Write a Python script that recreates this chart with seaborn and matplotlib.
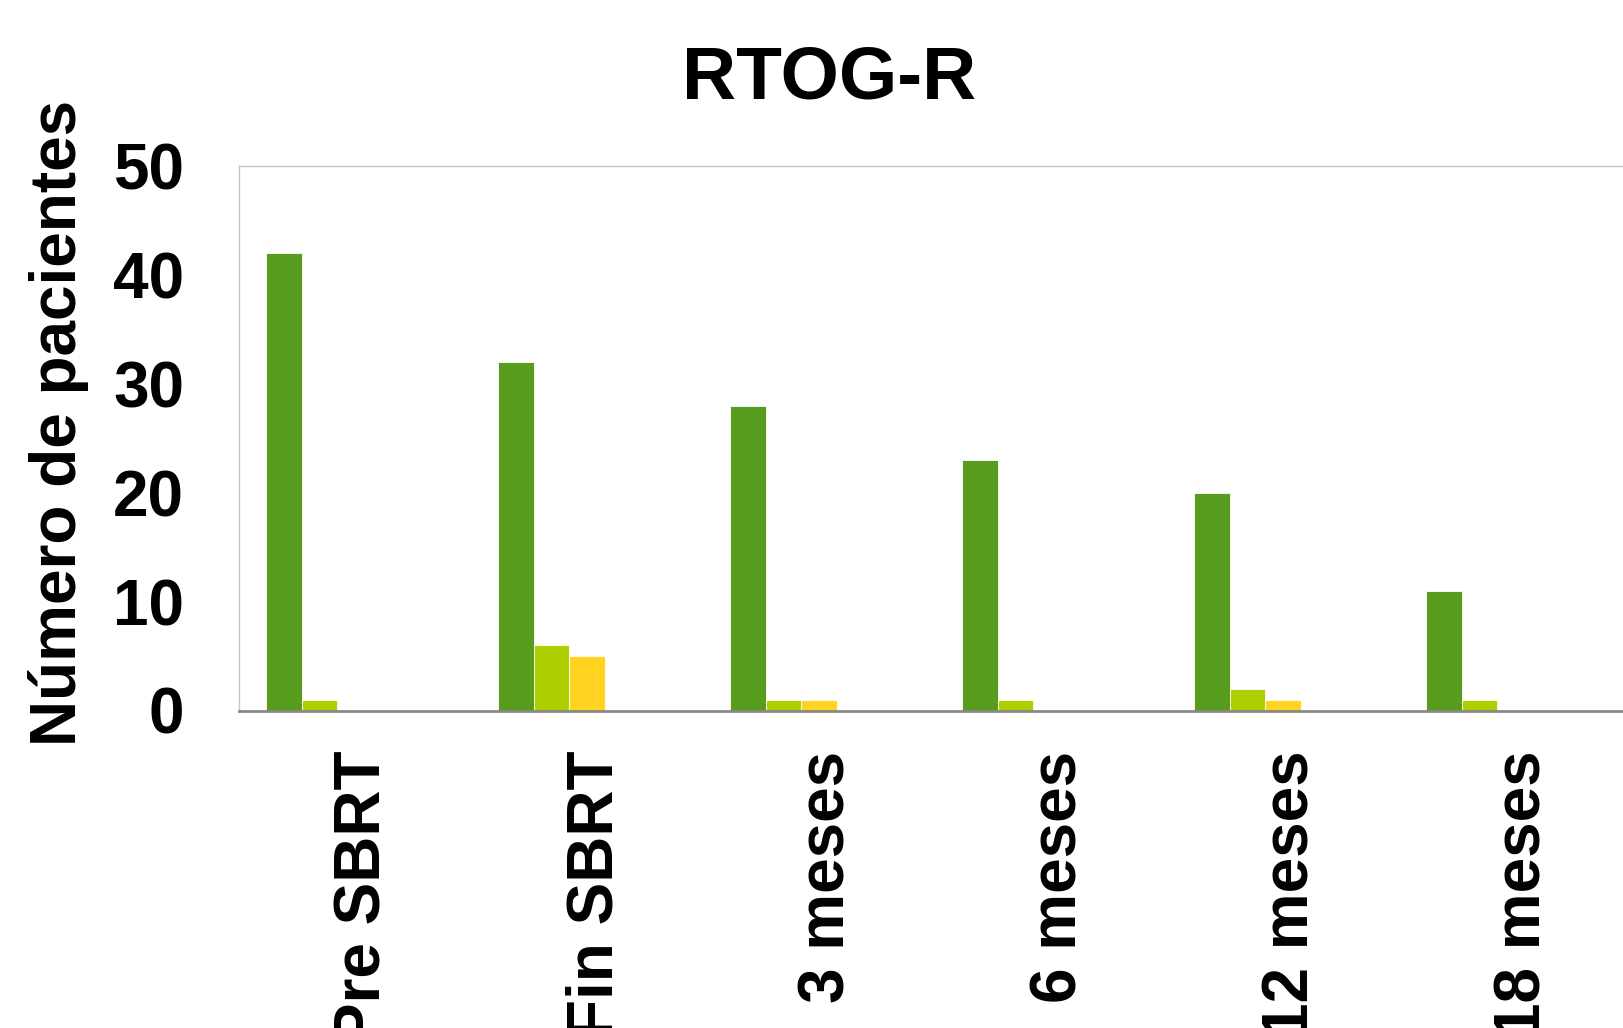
import pandas as pd
import matplotlib
matplotlib.use("Agg")
import matplotlib.pyplot as plt
import matplotlib.transforms as mtransforms
import seaborn as sns

# --- DATA ---
momentos = ['Pre SBRT', 'Fin SBRT', '3 meses', '6 meses', '12 meses', '18 meses']
grados = ['Grado 0', 'Grado 1', 'Grado 2', 'Grado 3', 'Grado 4']
grado_0 = [42, 32, 28, 23, 20, 11]
grado_1 = [1, 6, 1, 1, 2, 1]
grado_2 = [0, 5, 1, 0, 1, 0]
grado_3 = [0, 0, 0, 0, 0, 0]
grado_4 = [0, 0, 0, 0, 0, 0]
colores = ['#579C1D', '#AED000', '#FFD320', '#FF8C00', '#E02010']

rows = []
for g, vals in zip(grados, [grado_0, grado_1, grado_2, grado_3, grado_4]):
    for m, v in zip(momentos, vals):
        rows.append({'Momento': m, 'Grado': g, 'Pacientes': v})
df = pd.DataFrame(rows)

sns.set_theme(style="white")
plt.rcParams['font.family'] = ['Liberation Sans', 'DejaVu Sans']
plt.rcParams['font.weight'] = 'bold'
plt.rcParams['text.color'] = 'black'
plt.rcParams['xtick.color'] = 'black'
plt.rcParams['ytick.color'] = 'black'
plt.rcParams['axes.labelcolor'] = 'black'

W, H = 1624, 1028
fig = plt.figure(figsize=(W / 100, H / 100), dpi=100)
ax = fig.add_axes([239 / W, (H - 710.5) / H, 1392 / W, 544.5 / H])

sns.barplot(data=df, x='Momento', y='Pacientes', hue='Grado',
            order=momentos, hue_order=grados, palette=colores,
            saturation=1, width=0.768, gap=0, edgecolor='white',
            linewidth=0.6, legend=False, ax=ax)

ax.set_xlim(-0.5, 5.5)
ax.set_ylim(0, 50)
ax.set_yticks([0, 10, 20, 30, 40, 50])
ax.set_xlabel('')
ax.set_ylabel('Número de pacientes', fontsize=46, fontweight='bold')
ax.yaxis.set_label_coords(-0.108, 0.528)

ax.tick_params(axis='y', length=0, pad=39.6, labelsize=46)
ax.tick_params(axis='x', length=0, pad=29, labelsize=46, labelrotation=90)
for lab in ax.get_xticklabels() + ax.get_yticklabels():
    lab.set_fontweight('bold')

# nudge the rotated category labels a little to the right, like the original
shift = mtransforms.ScaledTranslation(0.09, 0, fig.dpi_scale_trans)
for lab in ax.get_xticklabels():
    lab.set_transform(lab.get_transform() + shift)

for side in ['left', 'top', 'right']:
    ax.spines[side].set_color('#c4c4c4')
    ax.spines[side].set_linewidth(1.0)
ax.spines['bottom'].set_color('#888888')
ax.spines['bottom'].set_linewidth(2.0)

fig.text(829 / W, 1 - 98.4 / H, 'RTOG-R', ha='center', va='baseline',
         fontsize=54, fontweight='bold')

fig.savefig('out.png', dpi=100)
